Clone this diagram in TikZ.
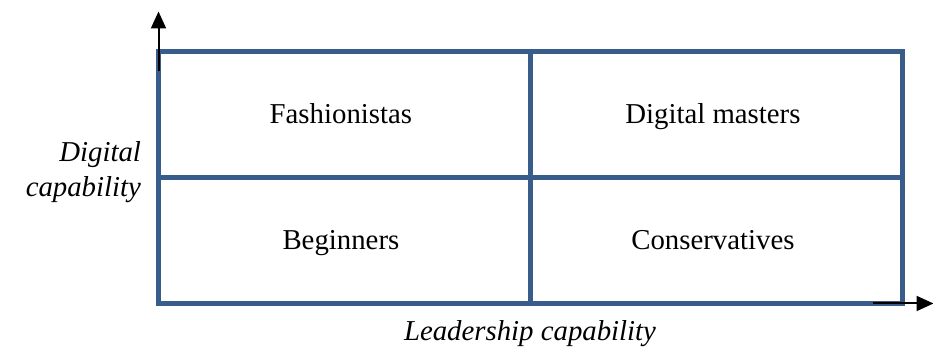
\documentclass[tikz,border=0pt]{standalone}
\usepackage{fontspec}
\setmainfont{Liberation Serif}
\usepackage{tikz}
\usetikzlibrary{matrix, arrows.meta}
\definecolor{gridblue}{RGB}{56,93,138}
\tikzset{
	quadrants/.style={
		matrix of nodes,
		row sep=-2.4pt,
		column sep=-2.4pt,
		nodes={rectangle, draw=gridblue, line width=2.4pt, outer sep=0pt,
			anchor=center, minimum width=186pt, minimum height=63pt,
			text height=11pt, text depth=2pt,
			align=center, font=\fontsize{14.4}{17.3}\selectfont},
		nodes in empty cells
	},
	axis/.style={line width=1pt, -{Triangle[width=7.5pt,length=8.5pt]}},
	axislabel/.style={font=\fontsize{14.4}{17.5}\selectfont\itshape}
}
\begin{document}
\begin{tikzpicture}[x=0.5pt, y=0.5pt]
		\useasboundingbox (0,0) rectangle (933,-356);
		% the four cells
		\matrix (grid) at (530.5,-177.5) [quadrants]
		{
			Fashionistas & Digital masters \\
			Beginners & Conservatives \\
		};

		% the axes
		\coordinate (ytip) at ([yshift=20pt]grid-1-1.north west);
		\coordinate (xtip) at ([xshift=15.5pt]grid-2-2.south east);
		\draw[axis] ([yshift=-10pt]grid-1-1.north west) -- (ytip);
		\draw[axis] ([xshift=-15pt]grid-2-2.south east) -- (xtip);

		% the axis labels
		\node[axislabel, align=right, anchor=east] (ylabel) at (148,-172) {Digital\\capability};
		\node[axislabel] (xlabel) at (530,-334) {Leadership capability};
	\end{tikzpicture}
\end{document}
